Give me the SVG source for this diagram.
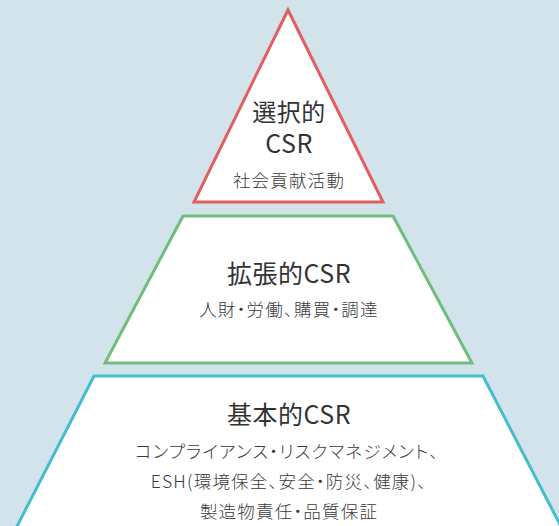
<svg xmlns="http://www.w3.org/2000/svg" width="559" height="526" viewBox="0 0 559 526">
<style>
.bg{fill:#d3e3eb}
.shape{fill:#ffffff;stroke-width:3;stroke-linejoin:miter}
.t{font-family:"Noto Sans CJK JP","Noto Sans",sans-serif;fill:#333333;text-anchor:middle}
.h{font-size:25px;letter-spacing:0.5px}
.s{font-size:17.5px;font-feature-settings:"palt";letter-spacing:1.2px;font-weight:300;fill:#3a3a3a}
</style>
<rect class="bg" x="0" y="0" width="559" height="526"/>
<g id="top">
<polygon class="shape" stroke="#e0605f" points="288,10 194,202 383,202"/>
<text class="t h" x="289" y="121" style="font-size:24px">選択的</text>
<text class="t h" x="289" y="153">CSR</text>
<text class="t s" x="289" y="187">社会貢献活動</text>
</g>
<g id="middle">
<polygon class="shape" stroke="#6dbf7a" points="183,216 393,216 472,363 105,363"/>
<text class="t h" x="289" y="283">拡張的CSR</text>
<text class="t s" x="289" y="316">人財・労働、購買・調達</text>
</g>
<g id="bottom">
<polygon class="shape" stroke="#45bcd0" points="94,376 483,376 568,540 10,540"/>
<text class="t h" x="289" y="424">基本的CSR</text>
<text class="t s" x="287" y="458">コンプライアンス・リスクマネジメント、</text>
<text class="t s" x="289" y="488">ESH(環境保全、安全・防災、健康)、</text>
<text class="t s" x="289" y="518">製造物責任・品質保証</text>
</g>
<g id="connectors"/>
</svg>
